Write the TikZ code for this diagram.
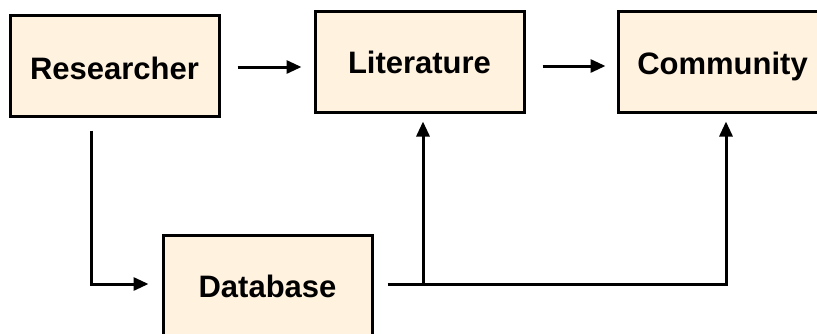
\documentclass[tikz,border=0pt]{standalone}
\usepackage{fontspec}
\setmainfont{Liberation Sans}
\usetikzlibrary{arrows.meta}
\definecolor{boxfill}{HTML}{FFF2DF}
\tikzset{
  box/.style={draw=black, fill=boxfill, line width=3pt, minimum width=209pt, minimum height=101pt, inner sep=0pt,
    font=\fontsize{31}{36}\selectfont\bfseries, text=black, text height=22pt, text depth=0pt},
  arr/.style={line width=3pt, -{Triangle[length=15pt,width=13pt]}},
  ln/.style={line width=3pt}
}
\begin{document}
\begin{tikzpicture}[x=1pt,y=-1pt]
\useasboundingbox (0,0) rectangle (817,333);
\clip (0,0) rectangle (817,333);
\fill[white] (0,0) rectangle (817,333);
\node[box] (R) at (114.5,65.5) {\raisebox{-2.5pt}{Researcher}};
\node[box] (L) at (419.5,61.5) {\raisebox{-1pt}{Literature}};
\node[box] (C) at (722.5,61.5) {\raisebox{-2pt}{Community}};
\node[box] (D) at (267.5,285.5) {\raisebox{-0.5pt}{Database}};
\draw[arr, shorten <=17pt, shorten >=12pt] ([yshift=-1.5pt]R.east) -- ([yshift=-1.5pt]R.east -| L.west);
\draw[arr, shorten <=17pt, shorten >=11pt] ([yshift=-4.5pt]L.east) -- ([yshift=-4.5pt]L.east -| C.west);
\draw[arr, shorten >=13pt] ([xshift=-23.5pt,yshift=-13pt]R.south) |- ([yshift=1.5pt]D.west);
\coordinate (j) at ([xshift=3.5pt,yshift=1.5pt]L.south |- D.east);
\draw[ln] ([xshift=14pt,yshift=1.5pt]D.east) -- (j);
\draw[arr] (j) -| ([xshift=3.5pt,yshift=-8pt]C.south);
\draw[arr] (j) -- ([xshift=3.5pt,yshift=-8pt]L.south);
\end{tikzpicture}
\end{document}
